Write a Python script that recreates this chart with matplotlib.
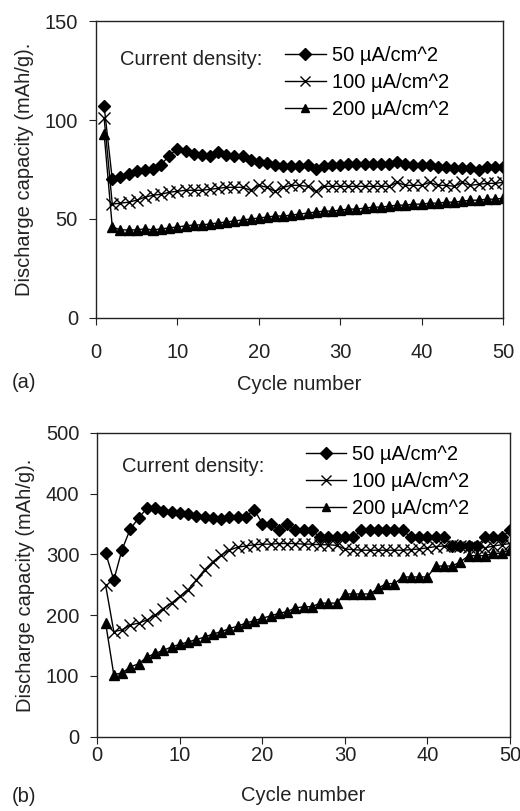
import matplotlib
matplotlib.use("Agg")
import matplotlib.pyplot as plt
import numpy as np

plt.rcParams['font.family'] = ['Liberation Sans', 'DejaVu Sans']
plt.rcParams['font.size'] = 14.5

cycles = np.arange(1, 51)
labels = ['50 µA/cm^2', '100 µA/cm^2', '200 µA/cm^2']

# (a)
a_50 = [107, 70, 71, 72.5, 74, 74.5, 75.5, 77.5, 82, 85.5,
        84.5, 83, 82.5, 82, 84, 82.5, 82, 82, 80, 79,
        78.5, 77.5, 77, 77, 77, 77.5, 75.5, 77, 77.5, 77.5,
        78, 78, 78, 78, 78, 78, 79, 78, 77.5, 77.5,
        77.5, 76.5, 76.5, 76, 76, 76, 74.5, 76.5, 76.5, 76.5]
a_100 = [101, 57.5, 58, 58.5, 59.5, 61, 62, 62.5, 63.5, 64,
         64.5, 64.5, 64.5, 65, 65.5, 66, 66, 66, 64.5, 67,
         66, 64, 66, 67, 67, 66.5, 64, 66.5, 66.5, 66.5,
         66.5, 66.5, 66.5, 66.5, 66.5, 66.5, 68.5, 67, 67, 67,
         68.5, 67, 67, 66.5, 68.5, 67, 67.5, 68, 68, 68.5]
a_200 = [93, 46, 44.5, 44.5, 44.5, 45, 44.5, 45, 45.5, 46,
         46.5, 47, 47, 47.5, 48, 48.5, 49, 49.5, 50, 50.5,
         51, 51.5, 51.5, 52, 52.5, 53, 53.5, 54, 54, 54.5,
         55, 55, 55.5, 56, 56, 56.5, 57, 57, 57.5, 57.5,
         58, 58, 58.5, 58.5, 59, 59.5, 59.5, 60, 60, 60.5]

# (b)
b_50 = [303, 258, 308, 342, 360, 376, 376, 372, 370, 368,
        366, 364, 362, 360, 358, 362, 362, 362, 374, 351,
        351, 340, 351, 340, 340, 340, 328, 328, 328, 328,
        328, 340, 340, 340, 340, 340, 340, 328, 328, 328,
        328, 328, 314, 314, 314, 314, 328, 328, 328, 340]
b_100 = [250, 173, 176, 184, 187, 192, 200, 211, 220, 231,
         242, 258, 275, 288, 299, 307, 312, 314, 316, 317,
         317, 318, 318, 318, 317, 317, 316, 316, 315, 309,
         308, 307, 307, 307, 307, 307, 307, 308, 309, 311,
         313, 314, 315, 314, 313, 312, 311, 314, 316, 318]
b_200 = [188, 102, 105, 115, 120, 131, 137, 142, 148, 152,
         156, 160, 164, 169, 173, 178, 182, 187, 191, 195,
         199, 203, 206, 212, 214, 214, 220, 220, 220, 235,
         235, 235, 235, 244, 252, 252, 263, 263, 263, 263,
         281, 281, 281, 288, 298, 298, 298, 302, 302, 308]

fig = plt.figure(figsize=(5.2, 8.11), dpi=100)
ax1 = fig.add_axes([0.1846, 0.6079, 0.7827, 0.3662])
ax2 = fig.add_axes([0.1871, 0.0916, 0.7936, 0.3745])


def draw(ax, s50, s100, s200, ymax, ystep, xpad, leg_y, txt_y, leg_x):
    ax.plot(cycles, s50, color='black', lw=1, marker='D', ms=6.5, label=labels[0])
    ax.plot(cycles, s100, color='black', lw=1, marker='x', ms=8, mew=1.0, label=labels[1])
    ax.plot(cycles, s200, color='black', lw=1, marker='^', ms=7, label=labels[2])
    ax.set_xlim(0, 50)
    ax.set_ylim(0, ymax)
    ax.set_xticks(range(0, 51, 10))
    ax.set_yticks(np.arange(0, ymax + 1, ystep))
    ax.tick_params(axis='x', direction='out', length=5, pad=xpad, colors='#222222')
    ax.tick_params(axis='y', direction='out', length=5, pad=8, colors='#222222')
    for s in ax.spines.values():
        s.set_linewidth(1.0)
        s.set_color('#222222')
    ax.set_ylabel('Discharge capacity (mAh/g).', color='#222222')
    ax.yaxis.set_label_coords(-0.175, 0.5)
    ax.yaxis.label.set_va('center')
    ax.text(0.06, txt_y, 'Current density:', transform=ax.transAxes,
            ha='left', va='center', color='#222222')
    ax.legend(loc='upper left', bbox_to_anchor=(leg_x, leg_y), frameon=False,
              borderpad=0, borderaxespad=0, handlelength=2.0, handletextpad=0.3,
              labelspacing=0.4, markerscale=0.9)


draw(ax1, a_50, a_100, a_200, 150, 50, 13, 0.915, 0.872, 0.465)
ax1.set_xlabel('Cycle number', color='#222222')
ax1.xaxis.set_label_coords(0.5, -0.225)
ax1.xaxis.label.set_va('center')
fig.text(0.023, 1 - 382 / 811, '(a)', ha='left', va='center', color='#222222')

draw(ax2, b_50, b_100, b_200, 500, 100, 2, 0.96, 0.889, 0.505)
ax2.set_xlabel('Cycle number', color='#222222')
ax2.xaxis.set_label_coords(0.5, -0.195)
ax2.xaxis.label.set_va('center')
fig.text(0.023, 1 - 797 / 811, '(b)', ha='left', va='center', color='#222222')

fig.savefig('out.png', dpi=100)
